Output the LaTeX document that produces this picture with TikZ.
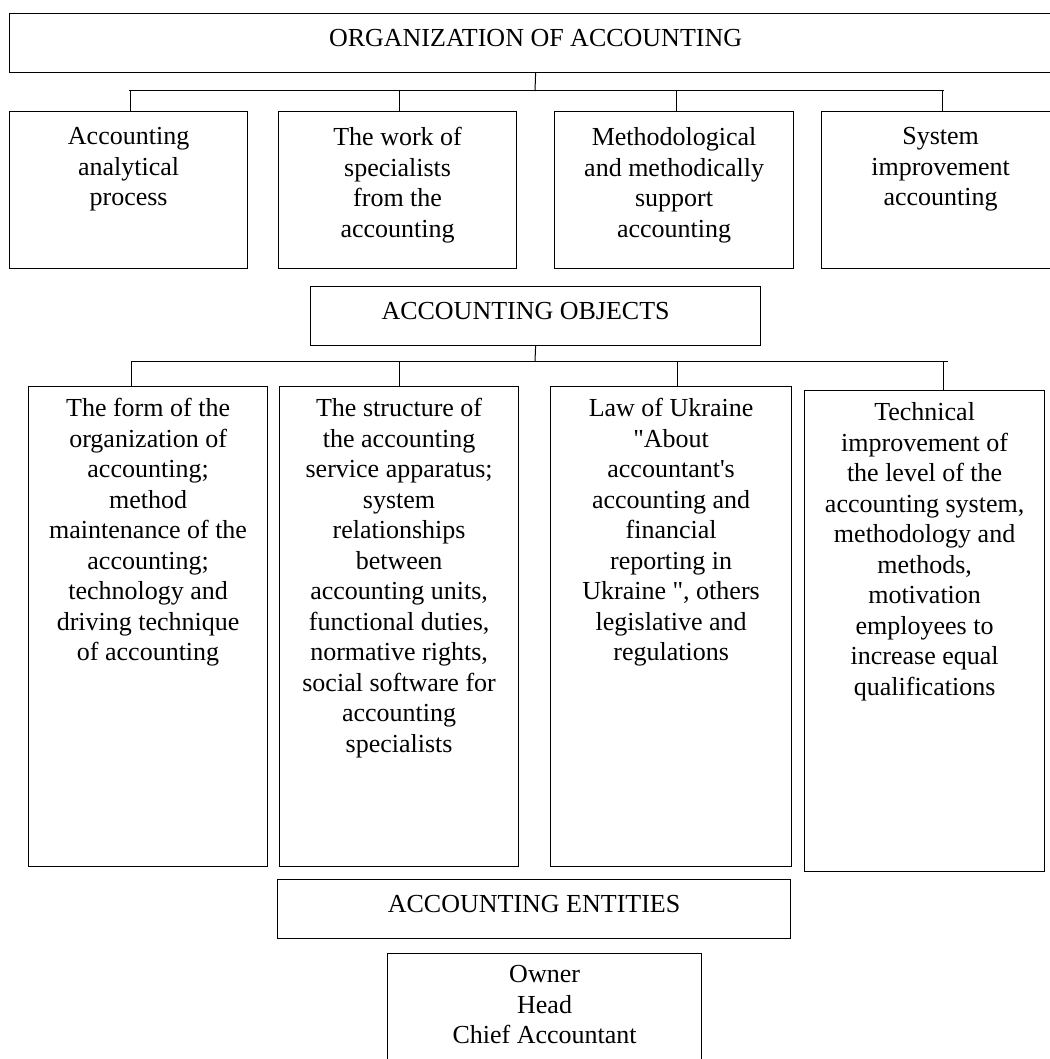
\documentclass[tikz,border=0pt]{standalone}
\usepackage{fontspec}
\setmainfont{Liberation Serif}[Ligatures=TeXOff]

\begin{document}
\begin{tikzpicture}[x=1pt, y=-1pt,
	frame/.style={draw, line width=1.2pt, inner sep=0pt, anchor=north west},
	boxtext/.style={anchor=north, yshift=-12.4pt, align=center, inner sep=0pt, execute at begin node=\strut, font=\fontsize{26}{30.5}\selectfont},
	link/.style={line width=1pt}]
		\useasboundingbox (0,0) rectangle (1049,1059);
		%
		%Organization
		\node[frame, minimum width=1052pt, minimum height=59pt] (org) at (9,13) {};
		\node[boxtext] (orgtxt) at (org.north) {ORGANIZATION OF ACCOUNTING};
		%
		%Reihe 1
		\node[frame, minimum width=238pt, minimum height=157pt] (proc) at (9,111) {};
		\node[boxtext, yshift=-4pt] (proctxt) at (proc.north) {Accounting\\analytical\\process};
		\node[frame, minimum width=238pt, minimum height=157pt] (work) at (278,111) {};
		\node[boxtext, yshift=-4pt] (worktxt) at (work.north) {The work of\\specialists\\from the\\accounting};
		\node[frame, minimum width=239pt, minimum height=157pt] (meth) at (554,111) {};
		\node[boxtext, yshift=-4pt] (methtxt) at (meth.north) {Methodological\\and methodically\\support\\accounting};
		\node[frame, minimum width=238pt, minimum height=157pt] (impr) at (821,111) {};
		\node[boxtext, yshift=-4pt] (imprtxt) at (impr.north) {System\\improvement\\accounting};
		%
		%Linien Organization - Reihe 1
		\coordinate (busA) at (535,91);
		\draw[link] (org.south) -- (busA);
		\draw[link] (129,91) -- (944,91);
		\foreach \x/\n in {130/proc, 399/work, 676/meth, 942/impr}
			\draw[link] (\x,91) -- (\x,91 |- \n.north);
		%
		%Objects
		\node[frame, minimum width=450pt, minimum height=59pt] (obj) at (310,286) {};
		\node[boxtext, xshift=-10pt] (objtxt) at (obj.north) {ACCOUNTING OBJECTS};
		%
		%Reihe 2
		\node[frame, minimum width=239pt, minimum height=480pt] (form) at (28,386) {};
		\node[boxtext] (formtxt) at (form.north) {The form of the\\organization of\\accounting;\\method\\maintenance of the\\accounting;\\technology and\\driving technique\\of accounting};
		\node[frame, minimum width=239pt, minimum height=480pt] (struct) at (279,386) {};
		\node[boxtext] (structtxt) at (struct.north) {The structure of\\the accounting\\service apparatus;\\system\\relationships\\between\\accounting units,\\functional duties,\\normative rights,\\social software for\\accounting\\specialists};
		\node[frame, minimum width=241pt, minimum height=480pt] (law) at (550,386) {};
		\node[boxtext] (lawtxt) at (law.north) {Law of Ukraine\\"About\\accountant's\\accounting and\\financial\\reporting in\\Ukraine ", others\\legislative and\\regulations};
		\node[frame, minimum width=240pt, minimum height=481pt] (tech) at (804,390) {};
		\node[boxtext] (techtxt) at (tech.north) {Technical\\improvement of\\the level of the\\accounting system,\\methodology and\\methods,\\motivation\\employees to\\increase equal\\qualifications};
		%
		%Linien Objects - Reihe 2
		\coordinate (busB) at (535,361);
		\draw[link] (obj.south) -- (busB);
		\draw[link] (131,361) -- (948,361);
		\foreach \x/\n in {131/form, 399/struct, 677/law, 943/tech}
			\draw[link] (\x,361) -- (\x,361 |- \n.north);
		%
		%Entities
		\node[frame, minimum width=513pt, minimum height=59pt] (ent) at (277,879) {};
		\node[boxtext] (enttxt) at (ent.north) {ACCOUNTING ENTITIES};
		%
		%Owner
		\node[frame, minimum width=314pt, minimum height=130pt] (who) at (387,953) {};
		\node[boxtext] (whotxt) at (who.north) {Owner\\Head\\Chief Accountant};
\end{tikzpicture}
\end{document}
